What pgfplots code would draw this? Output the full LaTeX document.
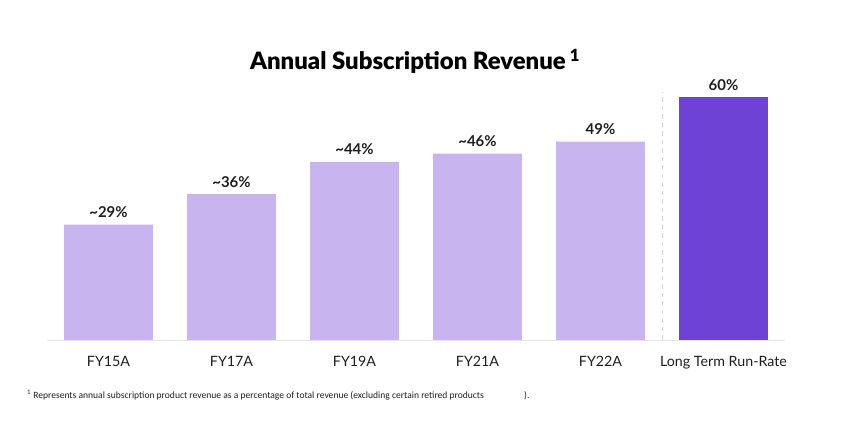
\documentclass[border=0pt]{standalone}
\usepackage{pgfplots}
\pgfplotsset{compat=1.18}
\usepackage{fontspec}
\setmainfont{Lato}
\newfontfamily\titlefont{Lato Black}
\newfontfamily\footfont{Carlito}
\definecolor{lightbar}{HTML}{C8B5F0}
\definecolor{darkbar}{HTML}{6D42D4}
\definecolor{txt}{HTML}{1E1E1E}
\definecolor{gridc}{HTML}{E6E6E6}
\definecolor{dashc}{HTML}{D2D2D2}
\begin{document}
\begin{tikzpicture}
\path[use as bounding box] (0bp,0bp) rectangle (842bp,432bp);
\begin{axis}[
  at={(108.5bp,92bp)}, anchor=origin,
  scale only axis, width=738bp, height=263.25bp,
  xmin=-0.5, xmax=5.5, ymin=0, ymax=65,
  axis y line=none,
  axis x line*=bottom,
  x axis line style={gridc, line width=0.8pt, -},
  xtick={0,1,2,3,4,5},
  xticklabels={FY15A,FY17A,FY19A,FY21A,FY22A,Long Term Run-Rate},
  major tick length=0pt,
  xticklabel style={font=\fontsize{14.3}{16}\selectfont, text=txt, anchor=base, yshift=-26.5bp},
  ybar, bar width=0.72, bar shift=0pt,
  clip=false,
  point meta=explicit symbolic,
  nodes near coords,
  every node near coord/.append style={font=\bfseries\fontsize{15}{17}\selectfont, text=txt, anchor=base, yshift=7bp},
]
\addplot[draw=none, fill=lightbar] coordinates {
  (0,28.5) [\textasciitilde{}29\%]
  (1,36) [\textasciitilde{}36\%]
  (2,44) [\textasciitilde{}44\%]
  (3,46) [\textasciitilde{}46\%]
  (4,49) [49\%]
};
\addplot[draw=none, fill=darkbar] coordinates {
  (5,60) [60\%]
};
\addplot[ybar=0pt, sharp plot, dashc, dash pattern=on 4.5bp off 4bp, line width=0.9pt, nodes near coords={}] coordinates {(4.5,0) (4.5,61.2)};
\end{axis}
\node[anchor=base, text=black, font=\titlefont\fontsize{24}{26}\selectfont] at (415bp,362bp) {Annual Subscription Revenue\,\textsuperscript{1}};
\node[anchor=base west, inner sep=0pt, font=\footfont\fontsize{9.6}{11}\selectfont, text=txt] at (27bp,34bp) {\textsuperscript{1} Represents annual subscription product revenue as a percentage of total revenue (excluding certain retired products};
\node[anchor=base west, inner sep=0pt, font=\footfont\fontsize{9.6}{11}\selectfont, text=txt] at (524bp,34bp) {).};
\end{tikzpicture}
\end{document}
